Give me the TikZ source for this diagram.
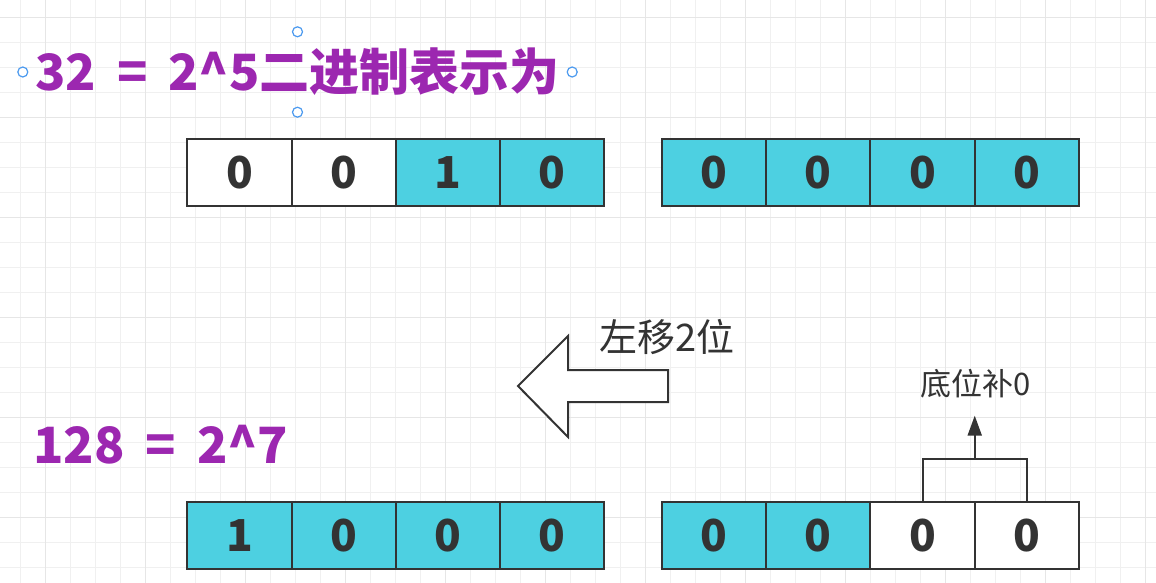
\documentclass[tikz,border=0pt]{standalone}
\usepackage{fontspec}
\setmainfont{Noto Sans CJK SC}
\usetikzlibrary{arrows.meta,positioning,calc}
\definecolor{Ink}{HTML}{333333}
\definecolor{Cyan}{HTML}{4DD0E1}
\definecolor{Plum}{HTML}{9C27B0}
\definecolor{Handle}{HTML}{4C9AEF}
\definecolor{GridMinor}{HTML}{F0F0F0}
\definecolor{GridMajor}{HTML}{E6E6E6}
\newcommand\widespaces{\spaceskip 21pt\relax}
\tikzset{
  cell/.style={draw=Ink,line width=2pt,minimum width=104.25pt,minimum height=67pt,inner sep=0pt,outer sep=0pt,text=Ink,font=\fontsize{44}{44}\selectfont\bfseries},
  cellon/.style={cell,fill=Cyan},
  celloff/.style={cell,fill=white},
  heading/.style={text=Plum,inner sep=0pt,font=\fontsize{50}{50}\selectfont\bfseries\widespaces},
  note/.style={text=Ink,inner sep=0pt},
  handle/.style={circle,draw=Handle,fill=white,line width=1.2pt,minimum size=10pt,inner sep=0pt},
  outline/.style={draw=Ink,fill=white,line width=2pt,line join=miter},
  plainline/.style={draw=Ink,line width=2pt},
  flow/.style={-{Triangle[length=20pt,width=14pt]},draw=Ink,line width=2pt},
  gridminor/.style={draw=GridMinor,line width=1.2pt},
  gridmajor/.style={draw=GridMajor,line width=1.4pt}
}
\begin{document}
\begin{tikzpicture}[x=1pt,y=-1pt]
  \useasboundingbox[fill=white] (0,0) rectangle (1156,583);
  % background grid
  \foreach \gx in {20.5,45.5,...,1156} \draw[gridminor] (\gx,0) -- (\gx,583);
  \foreach \gy in {17.5,42.5,...,583} \draw[gridminor] (0,\gy) -- (1156,\gy);
  \foreach \gx in {45.5,145.5,...,1156} \draw[gridmajor] (\gx,0) -- (\gx,583);
  \foreach \gy in {17.5,117.5,...,583} \draw[gridmajor] (0,\gy) -- (1156,\gy);

  % headings
  \node[heading,minimum width=549pt,minimum height=80pt] (h32) at (297.5,72) {32 = 2\textasciicircum5二进制表示为};
  \foreach \side in {north,south,east,west}
    \node[handle] (hd-\side) at (h32.\side) {};
  \node[heading,anchor=base west] (h128) at (33,463) {128 = 2\textasciicircum7};

  % 32 in binary
  \node[celloff] (t1) at (239.4,172.3) {0};
  \node[celloff,right=0pt of t1] (t2) {0};
  \node[cellon,right=0pt of t2] (t3) {1};
  \node[cellon,right=0pt of t3] (t4) {0};
  \node[cellon] (t5) at (714.1,172.3) {0};
  \node[cellon,right=0pt of t5] (t6) {0};
  \node[cellon,right=0pt of t6] (t7) {0};
  \node[cellon,right=0pt of t7] (t8) {0};

  % 128 in binary
  \node[cellon] (b1) at (239.4,535.7) {1};
  \node[cellon,right=0pt of b1] (b2) {0};
  \node[cellon,right=0pt of b2] (b3) {0};
  \node[cellon,right=0pt of b3] (b4) {0};
  \node[cellon] (b5) at (714.1,535.7) {0};
  \node[cellon,right=0pt of b5] (b6) {0};
  \node[celloff,right=0pt of b6] (b7) {0};
  \node[celloff,right=0pt of b7] (b8) {0};

  % shift arrow
  \draw[outline] (518,386) -- (568,336) -- (568,370) -- (668,370)
    -- (668,402) -- (568,402) -- (568,437) -- cycle;
  \node[note,font=\fontsize{38}{38}\selectfont] (shift) at (667,337) {左移2位};

  % low bits filled with 0
  \coordinate (brk) at ($(b7.north)!.5!(b8.north)+(0,-43)$);
  \draw[plainline] (b7.north) |- (brk) -| (b8.north);
  \node[note,font=\fontsize{31}{31}\selectfont] (pad) at (976,384) {底位补0};
  \draw[flow,shorten >=17pt] (brk) -- (brk |- pad.south);
\end{tikzpicture}
\end{document}
